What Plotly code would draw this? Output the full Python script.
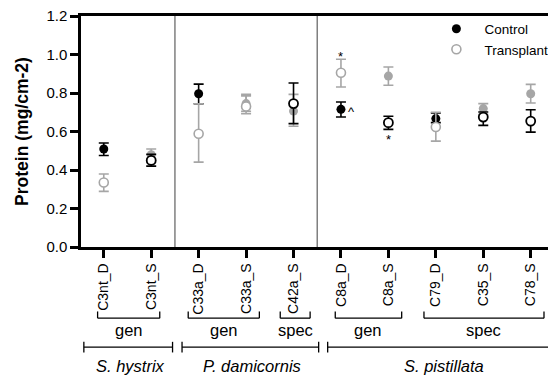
import plotly.graph_objects as go

categories = ["C3nt_D", "C3nt_S", "C33a_D", "C33a_S", "C42a_S",
              "C8a_D", "C8a_S", "C79_D", "C35_S", "C78_S"]

# Control, deep-origin series (black filled)
ctrl_black = [0.509, None, 0.796, None, None, 0.715, None, 0.667, None, None]
ctrl_black_up = [0.031, None, 0.050, None, None, 0.038, None, 0.029, None, None]
ctrl_black_dn = [0.034, None, 0.052, None, None, 0.040, None, 0.021, None, None]

# Transplant series (grey open)
trans_grey = [0.335, None, 0.588, 0.730, None, 0.905, None, 0.623, None, None]
trans_grey_up = [0.044, None, 0.156, 0.063, None, 0.070, None, 0.077, None, None]
trans_grey_dn = [0.046, None, 0.147, 0.037, None, 0.074, None, 0.073, None, None]

# Control, shallow-origin series (grey filled)
ctrl_grey = [None, 0.479, None, 0.745, 0.706, None, 0.888, None, 0.719, 0.796]
ctrl_grey_up = [None, 0.030, None, 0.040, 0.087, None, 0.047, None, 0.026, 0.049]
ctrl_grey_dn = [None, 0.030, None, 0.040, 0.079, None, 0.048, None, 0.030, 0.048]

# Transplant series (black open)
trans_black = [None, 0.450, None, None, 0.745, None, 0.646, None, 0.675, 0.654]
trans_black_up = [None, 0.031, None, None, 0.107, None, 0.033, None, 0.026, 0.059]
trans_black_dn = [None, 0.030, None, None, 0.104, None, 0.035, None, 0.043, 0.057]

y_ticks = [0.0, 0.2, 0.4, 0.6, 0.8, 1.0, 1.2]

# grouping rows below the axis
group_labels = ["gen", "gen", "spec", "gen", "spec"]
group_spans = [(-0.13, 1.18), (1.78, 3.28), (3.72, 4.35), (4.88, 6.28), (6.75, 9.28)]
species_labels = ["S. hystrix", "P. damicornis", "S. pistillata"]
species_spans = [(-0.42, 1.45), (1.65, 4.53), (4.72, 9.39)]
species_centers = [0.57, 3.13, 7.17]
separators = [1.5, 4.5]

# significance marks: (category position, value, text)
marks = [(5, 0.99, "*"), (6, 0.558, "*"), (5.23, 0.703, "^")]

BLACK = "#000000"
GREY = "#a6a6a6"
FONT = "Liberation Sans, Arial, sans-serif"

x = list(range(len(categories)))


def err(up, dn, color):
    return dict(type="data", symmetric=False,
                array=[v if v is not None else 0 for v in up],
                arrayminus=[v if v is not None else 0 for v in dn],
                color=color, thickness=1.6, width=5)


fig = go.Figure()
fig.add_trace(go.Scatter(
    x=x, y=ctrl_grey, mode="markers", showlegend=False, name="Control (S)",
    marker=dict(symbol="circle", size=9, color=GREY, line=dict(width=0)),
    error_y=err(ctrl_grey_up, ctrl_grey_dn, GREY)))
fig.add_trace(go.Scatter(
    x=x, y=ctrl_black, mode="markers", name="Control",
    marker=dict(symbol="circle", size=9, color=BLACK, line=dict(width=0)),
    error_y=err(ctrl_black_up, ctrl_black_dn, BLACK)))
fig.add_trace(go.Scatter(
    x=x, y=trans_grey, mode="markers", name="Transplant",
    marker=dict(symbol="circle", size=9, color="white", line=dict(width=1.6, color=GREY)),
    error_y=err(trans_grey_up, trans_grey_dn, GREY)))
fig.add_trace(go.Scatter(
    x=x, y=trans_black, mode="markers", showlegend=False, name="Transplant (S)",
    marker=dict(symbol="circle", size=9, color="white", line=dict(width=1.8, color=BLACK)),
    error_y=err(trans_black_up, trans_black_dn, BLACK)))

shapes = []
for sx in separators:
    shapes.append(dict(type="line", xref="x", yref="paper", x0=sx, x1=sx, y0=0, y1=1,
                       line=dict(color="#7f7f7f", width=1.5)))

y_br = -0.308
y_br_tick = -0.279
for (a, b) in group_spans:
    shapes.append(dict(type="line", xref="x", yref="paper", x0=a, x1=b, y0=y_br, y1=y_br,
                       line=dict(color=BLACK, width=1.3)))
    for e in (a, b):
        shapes.append(dict(type="line", xref="x", yref="paper", x0=e, x1=e, y0=y_br, y1=y_br_tick,
                           line=dict(color=BLACK, width=1.3)))

y_sp = -0.4335
for (a, b) in species_spans:
    shapes.append(dict(type="line", xref="x", yref="paper", x0=a, x1=b, y0=y_sp, y1=y_sp,
                       line=dict(color=BLACK, width=1.3)))
    for e in (a, b):
        shapes.append(dict(type="line", xref="x", yref="paper", x0=e, x1=e,
                           y0=y_sp - 0.023, y1=y_sp + 0.023,
                           line=dict(color=BLACK, width=1.3)))

annotations = []
for (a, b), lab in zip(group_spans, group_labels):
    annotations.append(dict(x=(a + b) / 2, y=-0.36, xref="x", yref="paper", text=lab,
                            showarrow=False, font=dict(size=16.5, color=BLACK, family=FONT),
                            xanchor="center", yanchor="middle"))
for cx, lab in zip(species_centers, species_labels):
    annotations.append(dict(x=cx, y=-0.517, xref="x", yref="paper", text="<i>%s</i>" % lab,
                            showarrow=False, font=dict(size=16.5, color=BLACK, family=FONT),
                            xanchor="center", yanchor="middle"))
for (mx, my, t) in marks:
    annotations.append(dict(x=mx, y=my, xref="x", yref="y", text=t, showarrow=False,
                            font=dict(size=13, color=BLACK, family=FONT),
                            xanchor="center", yanchor="middle"))

# the page body has an 8px default margin, so the figure is 8px smaller
fig.update_layout(
    width=548, height=370,
    margin=dict(l=73, r=3, t=8, b=131, autoexpand=False),
    paper_bgcolor="white", plot_bgcolor="white",
    font=dict(family=FONT, color=BLACK, size=14),
    shapes=shapes, annotations=annotations,
    legend=dict(x=0.736, y=1.011, xanchor="left", yanchor="top", itemwidth=46,
                bgcolor="rgba(0,0,0,0)", font=dict(size=13.5, family=FONT),
                itemclick=False),
    xaxis=dict(range=[-0.48, 9.47], tickmode="array", tickvals=x, ticktext=categories,
               tickangle=-90, ticks="outside", ticklen=8, tickwidth=3, tickcolor=BLACK,
               showline=True, linewidth=2.5, linecolor=BLACK, mirror=True,
               showgrid=False, zeroline=False, tickfont=dict(size=14)),
    yaxis=dict(range=[0, 1.2], tickmode="array", tickvals=y_ticks,
               ticktext=["%.1f" % v for v in y_ticks], ticklabeloverflow="allow",
               ticks="outside", ticklen=8, tickwidth=3, tickcolor=BLACK,
               showline=True, linewidth=2.5, linecolor=BLACK, mirror=True,
               showgrid=False, zeroline=False, tickfont=dict(size=15),
               title=dict(text="<b>Protein (mg/cm-2)</b>", font=dict(size=17.5),
                          standoff=14)),
)

fig.write_html("out.html")
